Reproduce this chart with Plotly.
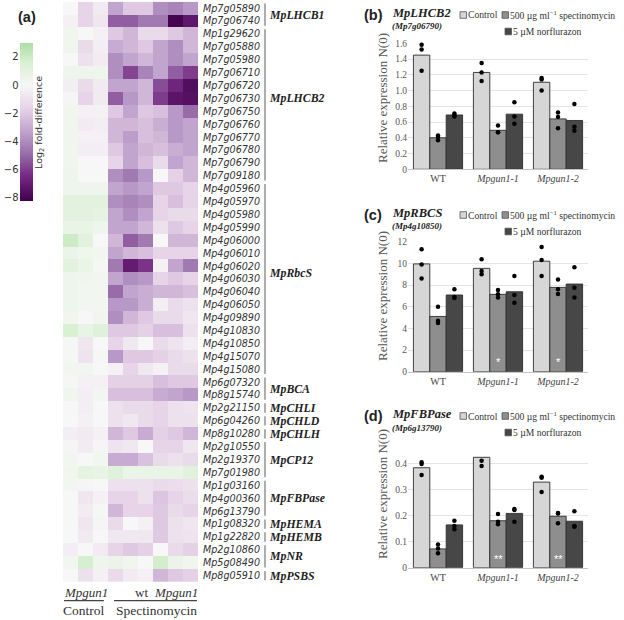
import numpy as np
import plotly.graph_objects as go

# ---------------- heatmap data (log2 fold-difference) ----------------
genes = ["Mp7g05890", "Mp7g06740", "Mp1g29620", "Mp7g05880", "Mp7g05980", "Mp7g06710",
         "Mp7g06720", "Mp7g06730", "Mp7g06750", "Mp7g06760", "Mp7g06770", "Mp7g06780",
         "Mp7g06790", "Mp7g09180", "Mp4g05960", "Mp4g05970", "Mp4g05980", "Mp4g05990",
         "Mp4g06000", "Mp4g06010", "Mp4g06020", "Mp4g06030", "Mp4g06040", "Mp4g06050",
         "Mp4g09890", "Mp4g10830", "Mp4g10850", "Mp4g15070", "Mp4g15080", "Mp6g07320",
         "Mp8g15740", "Mp2g21150", "Mp6g04260", "Mp8g10280", "Mp2g10550", "Mp2g19370",
         "Mp7g01980", "Mp1g03160", "Mp4g00360", "Mp6g13790", "Mp1g08320", "Mp1g22820",
         "Mp2g10860", "Mp5g08490", "Mp8g05910"]

ctrl_gun1 = [[0, -1.6, -0.6], [-0.3, -1.6, -0.8], [0.4, 0, -0.3], [0.4, -1.3, -0.4],
             [0, -1.0, -0.5], [0.5, 0.5, 0.5], [-0.4, -1.3, -0.6], [-0.1, -1.6, -0.6],
             [0.4, -0.3, -0.3], [0.4, -0.5, -0.4], [0.4, -0.3, -0.3], [0.4, -0.4, -0.4],
             [0.4, 0, 0], [0.5, 0, 0], [0.5, 0.5, 0.5], [1.1, 1.1, 1.1], [1.1, 1.1, 0.9],
             [0.8, 0.8, 0.5], [2.0, 1.1, 0], [0.6, 0.4, 0.3], [1.1, 0.7, 0.1], [0.5, 0.4, 0.3],
             [0.5, 0.3, 0.3], [0.5, 0.3, 0.3], [0.4, 0, 0.4], [1.6, 0.8, 1.3], [0.1, -0.8, 0],
             [0.1, -0.9, 0.1], [0.3, 0.3, 0], [0.1, -0.3, -0.3], [0.4, -0.4, 0.3], [0, -0.4, 0],
             [0, -0.3, 0], [-0.4, -0.6, -0.3], [-0.1, -0.5, -0.1], [0.3, 0, 0.3], [0.4, 0.9, 0.8],
             [0.3, -0.1, 0], [0, -0.8, -0.3], [0, -0.5, 0.1], [0, -0.8, -0.1], [0, -0.6, 0],
             [-0.4, 0, -0.5], [0.3, 1.7, 0.5], [0, -1.0, -0.3]]

spec_wt = [[-3.2, -2.0, -2.0], [-5.2, -5.2, -4.5], [-2.0, -2.6, -1.3], [-3.0, -2.6, -2.0],
           [-3.9, -3.2, -2.6], [-3.9, -5.8, -4.2], [-3.2, -3.2, -2.6], [-5.2, -3.6, -2.6],
           [-2.0, -3.2, -2.0], [-2.6, -2.6, -2.3], [-2.6, -3.4, -2.3], [-2.0, -3.2, -2.6],
           [-1.6, -3.2, -2.3], [-3.9, -4.5, -3.6], [-3.2, -3.6, -3.2], [-3.9, -4.2, -3.9],
           [-3.2, -3.9, -3.2], [-3.2, -3.2, -2.6], [-2.6, -5.2, -4.5], [-3.2, -2.6, -2.3],
           [-4.5, -7.0, -6.2], [-3.2, -3.9, -3.6], [-4.9, -3.2, -2.9], [-3.6, -3.6, -2.9],
           [-3.9, -2.6, -2.0], [-2.0, -2.0, -1.7], [-1.6, -0.7, 0], [-3.6, -2.0, -2.0],
           [-0.3, -1.6, -0.7], [-1.7, -1.7, -1.7], [-2.3, -2.3, -2.3], [-1.0, -1.3, -1.3],
           [-1.0, -0.7, -1.3], [-2.6, -2.0, -3.0], [-0.9, -0.7, 0], [-3.0, -3.0, -2.2],
           [1.3, 0.7, 0.8], [-1.0, -1.0, -1.0], [-1.6, -1.6, -1.0], [-2.6, -1.6, -1.6],
           [-1.3, 0, -0.3], [-0.7, -0.7, -0.7], [-1.6, -2.0, -1.7], [0.6, 0.4, 0],
           [-1.3, -0.5, -0.3]]

spec_gun1 = [[-3.9, -4.2, -3.6], [-4.5, -8.0, -7.2], [-1.3, -2.0, -2.6], [-3.2, -3.9, -2.6],
             [-3.2, -3.9, -3.2], [-3.2, -5.2, -6.0], [-5.6, -6.6, -7.6], [-6.0, -7.3, -7.5],
             [-2.3, -3.6, -4.9], [-2.9, -3.6, -3.2], [-2.6, -3.6, -3.2], [-2.3, -2.9, -3.2],
             [-1.3, -3.2, -2.6], [0, -1.7, -2.6], [-2.0, -2.0, -1.6], [-1.6, -2.3, -1.6],
             [-1.6, -1.3, -1.3], [-1.0, -2.0, -1.6], [0, -2.6, -2.6], [-1.6, -1.6, -1.6],
             [-0.3, -3.2, -4.5], [-1.6, -2.0, -1.6], [-2.6, -2.6, -2.3], [-0.4, -1.3, -1.0],
             [-1.3, -1.3, -0.8], [-2.3, -2.3, -1.0], [-1.3, -0.9, -0.4], [-1.7, -1.3, -1.0],
             [-0.3, -1.3, -1.3], [-2.3, -2.0, -2.0], [-3.0, -3.2, -3.6], [-1.6, -1.0, -0.9],
             [-1.6, -1.0, -1.0], [-1.7, -2.0, -2.6], [-1.6, -1.6, -0.8], [-1.3, -1.0, -1.3],
             [0.8, 0.8, 1.2], [-1.3, -1.2, -1.0], [-2.1, -1.6, -1.2], [-2.0, -1.3, -1.6],
             [-2.0, -1.0, -0.8], [-2.0, -1.0, -0.9], [0, -1.3, -1.7], [1.8, 0.6, 0.4],
             [-2.6, -2.0, -1.7]]

group_names = ["MpLHCB1", "MpLHCB2", "MpRbcS", "MpBCA", "MpCHLI", "MpCHLD", "MpCHLH",
               "MpCP12", "MpFBPase", "MpHEMA", "MpHEMB", "MpNR", "MpPSBS"]
group_sizes = [2, 12, 15, 2, 1, 1, 1, 3, 3, 1, 1, 2, 1]

colbar_ticks = [-8, -6, -4, -2, 0, 2]

# ---------------- qPCR bar data ----------------
lines = ["WT", "Mpgun1-1", "Mpgun1-2"]
line_labels = ["WT", "<i>Mpgun1-1</i>", "<i>Mpgun1-2</i>"]
treatments = ["Control", "500 µg ml<sup>−1</sup> spectinomycin", "5 µM norflurazon"]

lhcb2_mean = {"control": [1.45, 1.23, 1.105], "spec": [0.40, 0.495, 0.64], "norf": [0.69, 0.70, 0.62]}
lhcb2_reps = {"control": [[1.58, 1.52, 1.25], [1.35, 1.23, 1.12], [1.16, 1.14, 1.00]],
              "spec": [[0.43, 0.41, 0.37], [0.555, 0.47, 0.47], [0.72, 0.665, 0.52]],
              "norf": [[0.71, 0.686, 0.67], [0.85, 0.67, 0.58], [0.83, 0.54, 0.49]]}

rbcs_mean = {"control": [9.95, 9.54, 10.2], "spec": [5.1, 7.14, 7.78], "norf": [7.08, 7.38, 8.09]}
rbcs_reps = {"control": [[11.3, 9.9, 8.6], [10.37, 9.3, 9.0], [11.5, 10.3, 8.83]],
             "spec": [[6.0, 4.7, 4.5], [7.54, 7.14, 6.86], [8.52, 7.6, 7.17]],
             "norf": [[7.6, 6.9, 6.8], [8.83, 7.08, 6.37], [9.63, 7.75, 6.86]]}

fbp_mean = {"control": [0.383, 0.423, 0.328], "spec": [0.072, 0.18, 0.197], "norf": [0.164, 0.208, 0.178]}
fbp_reps = {"control": [[0.404, 0.397, 0.355], [0.477, 0.41, 0.39], [0.348, 0.345, 0.29]],
            "spec": [[0.089, 0.074, 0.055], [0.206, 0.176, 0.166], [0.208, 0.21, 0.17]],
            "norf": [[0.18, 0.16, 0.147], [0.225, 0.221, 0.176], [0.216, 0.16, 0.157]]}

lhcb2_ticks = [0, 0.2, 0.4, 0.6, 0.8, 1.0, 1.2, 1.4, 1.6]
lhcb2_ticktext = ["0", "0.2", "0.4", "0.6", "0.8", "1.0", "1.2", "1.4", "1.6"]
rbcs_ticks = [0, 2, 4, 6, 8, 10, 12]
fbp_ticks = [0, 0.1, 0.2, 0.3, 0.4]
fbp_ticktext = ["0", "0.1", "0.2", "0.3", "0.4"]
rbcs_signif = ["", "*", "*"]
fbp_signif = ["", "**", "**"]

# ---------------- helpers ----------------
W, H = 624, 620
def px(x):
    return x / W
def py(y):
    return 1 - y / H

SERIF = "Liberation Serif, Times New Roman, Times, serif"
SANS = "Liberation Sans, Arial, sans-serif"
DJ = "DejaVu Sans, sans-serif"

# PRGn diverging scale, centred on 0 (±8), truncated to data range
zmin, zmax = -8.2, 3.0
prgn = [(-8.2, "#40004b"), (-6.4, "#762a83"), (-4.8, "#9970ab"), (-3.2, "#c2a5cf"),
        (-1.6, "#e7d4e8"), (0.0, "#f7f7f7"), (1.6, "#d9f0d3"), (3.0, "#acdea6")]
cscale = [[(v - zmin) / (zmax - zmin), c] for v, c in prgn]

fig = go.Figure()

z = np.hstack([np.array(ctrl_gun1), np.array(spec_wt), np.array(spec_gun1)])
fig.add_trace(go.Heatmap(
    z=z, x=list(range(9)), y=genes, colorscale=cscale, zmin=zmin, zmax=zmax,
    xaxis="x", yaxis="y", hoverinfo="skip",
    colorbar=dict(x=px(19.5), xanchor="left", y=py(42.7), yanchor="top",
                  len=158, lenmode="pixels", thickness=13, thicknessmode="pixels",
                  xpad=0, ypad=0, outlinewidth=0, showticklabels=False, ticks=""),
))
# axis used only for the colour-bar tick labels
fig.add_trace(go.Scatter(x=[], y=[], xaxis="x2", yaxis="y2", showlegend=False))

# ---------------- bar panels ----------------
panels = [
    dict(tag="(b)", gene="MpLHCB2", gid="(Mp7g06790)", mean=lhcb2_mean, reps=lhcb2_reps,
         ticks=lhcb2_ticks, ticktext=lhcb2_ticktext, rng=[0, 1.6], y0=169.3, y1=43.3,
         base=0, signif=None, sig_y=None, ytitle=98),
    dict(tag="(c)", gene="MpRBCS", gid="(Mp4g10850)", mean=rbcs_mean, reps=rbcs_reps,
         ticks=rbcs_ticks, ticktext=[str(t) for t in rbcs_ticks], rng=[0, 12], y0=371.7, y1=241.7,
         base=200, signif=rbcs_signif, sig_y=0.85, ytitle=296),
    dict(tag="(d)", gene="MpFBPase", gid="(Mp6g13790)", mean=fbp_mean, reps=fbp_reps,
         ticks=fbp_ticks, ticktext=fbp_ticktext, rng=[0, 0.45], y0=567.7, y1=450.25,
         base=401, signif=fbp_signif, sig_y=0.033, ytitle=494),
]
keys = ["control", "spec", "norf"]
bar_colors = ["#d6d6d6", "#8e8e8e", "#474747"]

annotations = []
shapes = []

for i, p in enumerate(panels):
    xa = f"x{i + 3}"
    ya = f"y{i + 3}"
    for k, key in enumerate(keys):
        fig.add_trace(go.Bar(x=lines, y=p["mean"][key], xaxis=xa, yaxis=ya,
                             marker=dict(color=bar_colors[k], line=dict(color="#2e2e2e", width=0.9)),
                             offsetgroup=str(k), showlegend=False, hoverinfo="skip"))
    for k, key in enumerate(keys):
        xs, ys = [], []
        for j, ln in enumerate(lines):
            for v in p["reps"][key][j]:
                xs.append(ln)
                ys.append(v)
        fig.add_trace(go.Scatter(x=xs, y=ys, xaxis=xa, yaxis=ya, mode="markers",
                                 marker=dict(color="black", size=4.5),
                                 offsetgroup=str(k), showlegend=False, hoverinfo="skip",
                                 cliponaxis=False))
    ax_n = i + 3
    fig.layout[f"xaxis{ax_n}"] = dict(domain=[px(408), px(588)], anchor=ya, type="category",
                                      tickmode="array", tickvals=lines, ticktext=line_labels,
                                      tickfont=dict(family=SERIF, size=10, color="#444"),
                                      showline=True, linecolor="#c4c4c4", linewidth=1,
                                      ticks="", showgrid=False, fixedrange=True, automargin=False)
    fig.layout[f"yaxis{ax_n}"] = dict(domain=[py(p["y0"]), py(p["y1"])], anchor=xa,
                                      range=p["rng"], tickmode="array", tickvals=p["ticks"],
                                      ticktext=p["ticktext"],
                                      tickfont=dict(family=SERIF, size=9.5, color="#555"),
                                      showgrid=True, gridcolor="#e4e4e4", gridwidth=1,
                                      zeroline=False, showline=False, ticks="", fixedrange=True,
                                      automargin=False)
    b = p["base"]
    annotations.append(dict(text=p["tag"], x=px(362), y=py(b + 15), xref="paper", yref="paper",
                            xanchor="left", yanchor="middle", showarrow=False,
                            font=dict(family=SANS, size=14.5, color="#222", weight="bold")))
    annotations.append(dict(text=f"<b><i>{p['gene']}</i></b>", x=px(390), y=py(b + 13),
                            xref="paper", yref="paper", xanchor="left", yanchor="middle",
                            showarrow=False, font=dict(family=SERIF, size=12.5, color="#222")))
    annotations.append(dict(text=f"<b><i>{p['gid']}</i></b>", x=px(390), y=py(b + 26.5),
                            xref="paper", yref="paper", xanchor="left", yanchor="middle",
                            showarrow=False, font=dict(family=SERIF, size=9, color="#222")))
    annotations.append(dict(text="Relative expression N(0)", x=px(382), y=py(p["ytitle"]),
                            xref="paper", yref="paper", xanchor="center", yanchor="middle",
                            textangle=-90, showarrow=False,
                            font=dict(family=SERIF, size=13, color="#555")))
    # legend (boxes + labels)
    legend_pos = [(460, b + 15), (502, b + 15), (505, b + 31.5)]
    for k, (lx, ly) in enumerate(legend_pos):
        shapes.append(dict(type="rect", xref="paper", yref="paper",
                           x0=px(lx), x1=px(lx + 6.5), y0=py(ly + 3.3), y1=py(ly - 3.3),
                           fillcolor=bar_colors[k], line=dict(color="#555", width=0.8)))
        annotations.append(dict(text=treatments[k], x=px(lx + 6.5), y=py(ly), xref="paper",
                                yref="paper", xanchor="left", yanchor="middle", showarrow=False,
                                borderpad=0, font=dict(family=SERIF, size=9.6, color="#333")))
    if p["signif"]:
        for j, s in enumerate(p["signif"]):
            if s:
                annotations.append(dict(text=s, x=lines[j], y=p["sig_y"], xref=xa, yref=ya,
                                        xanchor="center", yanchor="middle", showarrow=False,
                                        font=dict(family=SANS, size=11, color="white")))

# ---------------- heatmap annotations ----------------
annotations.append(dict(text="(a)", x=px(16), y=py(17), xref="paper", yref="paper",
                        xanchor="left", yanchor="middle", showarrow=False,
                        font=dict(family=SANS, size=14.5, color="#222", weight="bold")))
annotations.append(dict(text="Log<sub>2</sub> fold-difference", x=px(40), y=py(123),
                        xref="paper", yref="paper", xanchor="center", yanchor="middle",
                        textangle=-90, showarrow=False,
                        font=dict(family=DJ, size=9.5, color="#333")))

start = 0
for name, size in zip(group_names, group_sizes):
    end = start + size - 1
    shapes.append(dict(type="line", xref="paper", yref="y", x0=px(265), x1=px(265),
                       y0=start - 0.36, y1=end + 0.36, line=dict(color="#777", width=1.2)))
    mid = (start + end) / 2
    if size > 3:
        mid -= 0.5
    annotations.append(dict(text=f"<b><i>{name}</i></b>", x=px(268), y=mid, xref="paper", yref="y",
                            xanchor="left", yanchor="middle", showarrow=False, borderpad=0,
                            font=dict(family=SERIF, size=11.8, color="#222")))
    start = end + 1

col_labels = [("<i>Mpgun1</i>", 1.0), ("wt", 4.7), ("<i>Mpgun1</i>", 7.0)]
for txt, xc in col_labels:
    annotations.append(dict(text=txt, x=xc, y=py(592), xref="x", yref="paper",
                            xanchor="center", yanchor="middle", showarrow=False,
                            font=dict(family=SERIF, size=13, color="#333")))
for txt, xc in [("Control", 0.9), ("Spectinomycin", 5.7)]:
    annotations.append(dict(text=txt, x=xc, y=py(610), xref="x", yref="paper",
                            xanchor="center", yanchor="middle", showarrow=False,
                            font=dict(family=SERIF, size=13.5, color="#333")))
for x0, x1 in [(-0.43, 2.23), (2.9, 8.43)]:
    shapes.append(dict(type="line", xref="x", yref="paper", x0=x0, x1=x1,
                       y0=py(600.7), y1=py(600.7), line=dict(color="#444", width=1.2)))

fig.update_layout(
    template="none",
    width=W, height=H, margin=dict(l=0, r=0, t=0, b=0, autoexpand=False),
    paper_bgcolor="white", plot_bgcolor="white",
    font=dict(family=SERIF, color="#333"),
    barmode="group", bargap=0.18, bargroupgap=0,
    scattermode="group", scattergap=0.18,
    xaxis=dict(domain=[px(63), px(198)], anchor="y", showticklabels=False, ticks="",
               showgrid=False, zeroline=False, range=[-0.5, 8.5], fixedrange=True,
               automargin=False),
    yaxis=dict(domain=[py(583.7), py(1.7)], anchor="x", type="category", autorange="reversed",
               side="right", ticks="", showgrid=False, zeroline=False, ticklabelstandoff=4,
               tickfont=dict(family=DJ, size=9.6, color="#333", style="italic"), fixedrange=True,
               automargin=False),
    xaxis2=dict(domain=[px(19.5), px(32.5)], anchor="y2", visible=False, range=[0, 1],
                automargin=False),
    yaxis2=dict(domain=[py(200.7), py(42.7)], anchor="x2", range=[zmin, zmax], side="left",
                tickmode="array", tickvals=colbar_ticks,
                ticktext=[("−" + str(-t)) if t < 0 else str(t) for t in colbar_ticks],
                tickfont=dict(family=DJ, size=10, color="#333"),
                showgrid=False, zeroline=False, showline=False, ticks="", automargin=False),
    annotations=annotations, shapes=shapes,
    showlegend=False, hovermode=False,
)

fig.write_html("out.html", config={"displayModeBar": False, "staticPlot": True},
               post_script="document.body.style.margin='0px';document.body.style.overflow='hidden';")
